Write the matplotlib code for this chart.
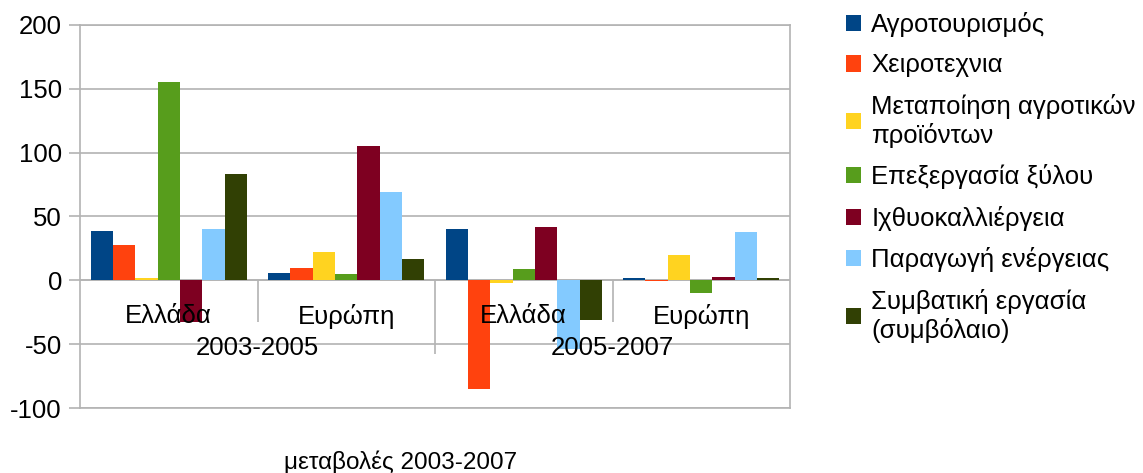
import numpy as np
import matplotlib.pyplot as plt
from matplotlib.patches import Patch

plt.rcParams['font.family'] = ['Liberation Sans', 'DejaVu Sans']
plt.rcParams['axes.unicode_minus'] = False

# data
categories = ['Ελλάδα', 'Ευρώπη', 'Ελλάδα', 'Ευρώπη']
periods = ['2003-2005', '2005-2007']
series_names = ['Αγροτουρισμός', 'Χειροτεχνια', 'Μεταποίηση αγροτικών\nπροϊόντων',
                'Επεξεργασία ξύλου', 'Ιχθυοκαλλιέργεια', 'Παραγωγή ενέργειας',
                'Συμβατική εργασία\n(συμβόλαιο)']
agrotourism = [39, 5.5, 40, 1.6]
handicraft = [28, 10, -85.5, -0.5]
processing = [2, 22, -2, 19.5]
wood = [155, 4.7, 9, -10]
fish = [-33, 105, 42, 2.3]
energy = [40, 69.5, -54, 37.5]
contract = [83, 17, -31, 1.6]
colors = ['#004586', '#ff420e', '#ffd320', '#579d1c', '#7e0021', '#83caff', '#314004']

series = [agrotourism, handicraft, processing, wood, fish, energy, contract]
fs = 18.5

fig = plt.figure(figsize=(11.43, 4.73), dpi=100)
ax = fig.add_axes([80 / 1143, 65 / 473, 710 / 1143, 383 / 473])

x = np.arange(len(categories))
n = len(series)
width = 0.88 / n
for i, (vals, col) in enumerate(zip(series, colors)):
    ax.bar(x - 0.44 + width * (i + 0.5), vals, width, color=col, zorder=3)

ax.set_xlim(-0.5, len(categories) - 0.5)
ax.set_ylim(-100, 200)
ax.set_yticks(np.arange(-100, 201, 50))
ax.grid(axis='y', color='#b3b3b3', linewidth=1.2, zorder=0)
ax.axhline(0, color='#b3b3b3', linewidth=1.2, zorder=2)
for s in ax.spines.values():
    s.set_color('#b3b3b3')
    s.set_linewidth(1.2)
ax.tick_params(axis='y', length=8, width=1.2, color='#b3b3b3', labelsize=fs, pad=5)
ax.set_xticks([])

# category / period labels under the zero line
for i, c in enumerate(categories):
    ax.text(i, -28, c, ha='center', va='center', fontsize=fs)
for j, p in enumerate(periods):
    ax.text(2 * j + 0.5, -53, p, ha='center', va='center', fontsize=fs)
ax.vlines([0.5, 2.5], -33, 0, color='#b3b3b3', linewidth=1.2, zorder=2)
ax.vlines([1.5], -58, 0, color='#b3b3b3', linewidth=1.2, zorder=2)

fig.text(401 / 1143, 1 - 462 / 473, 'μεταβολές 2003-2007', ha='center', va='center', fontsize=17.5)

handles = [Patch(facecolor=c) for c in colors]
fig.legend(handles, series_names, loc='upper left', bbox_to_anchor=(846 / 1143, 1 - 12 / 473),
           frameon=False, fontsize=fs, handlelength=0.6, handleheight=0.6,
           handletextpad=0.38, labelspacing=0.64, borderpad=0, borderaxespad=0)

plt.savefig('out.png', dpi=100)
